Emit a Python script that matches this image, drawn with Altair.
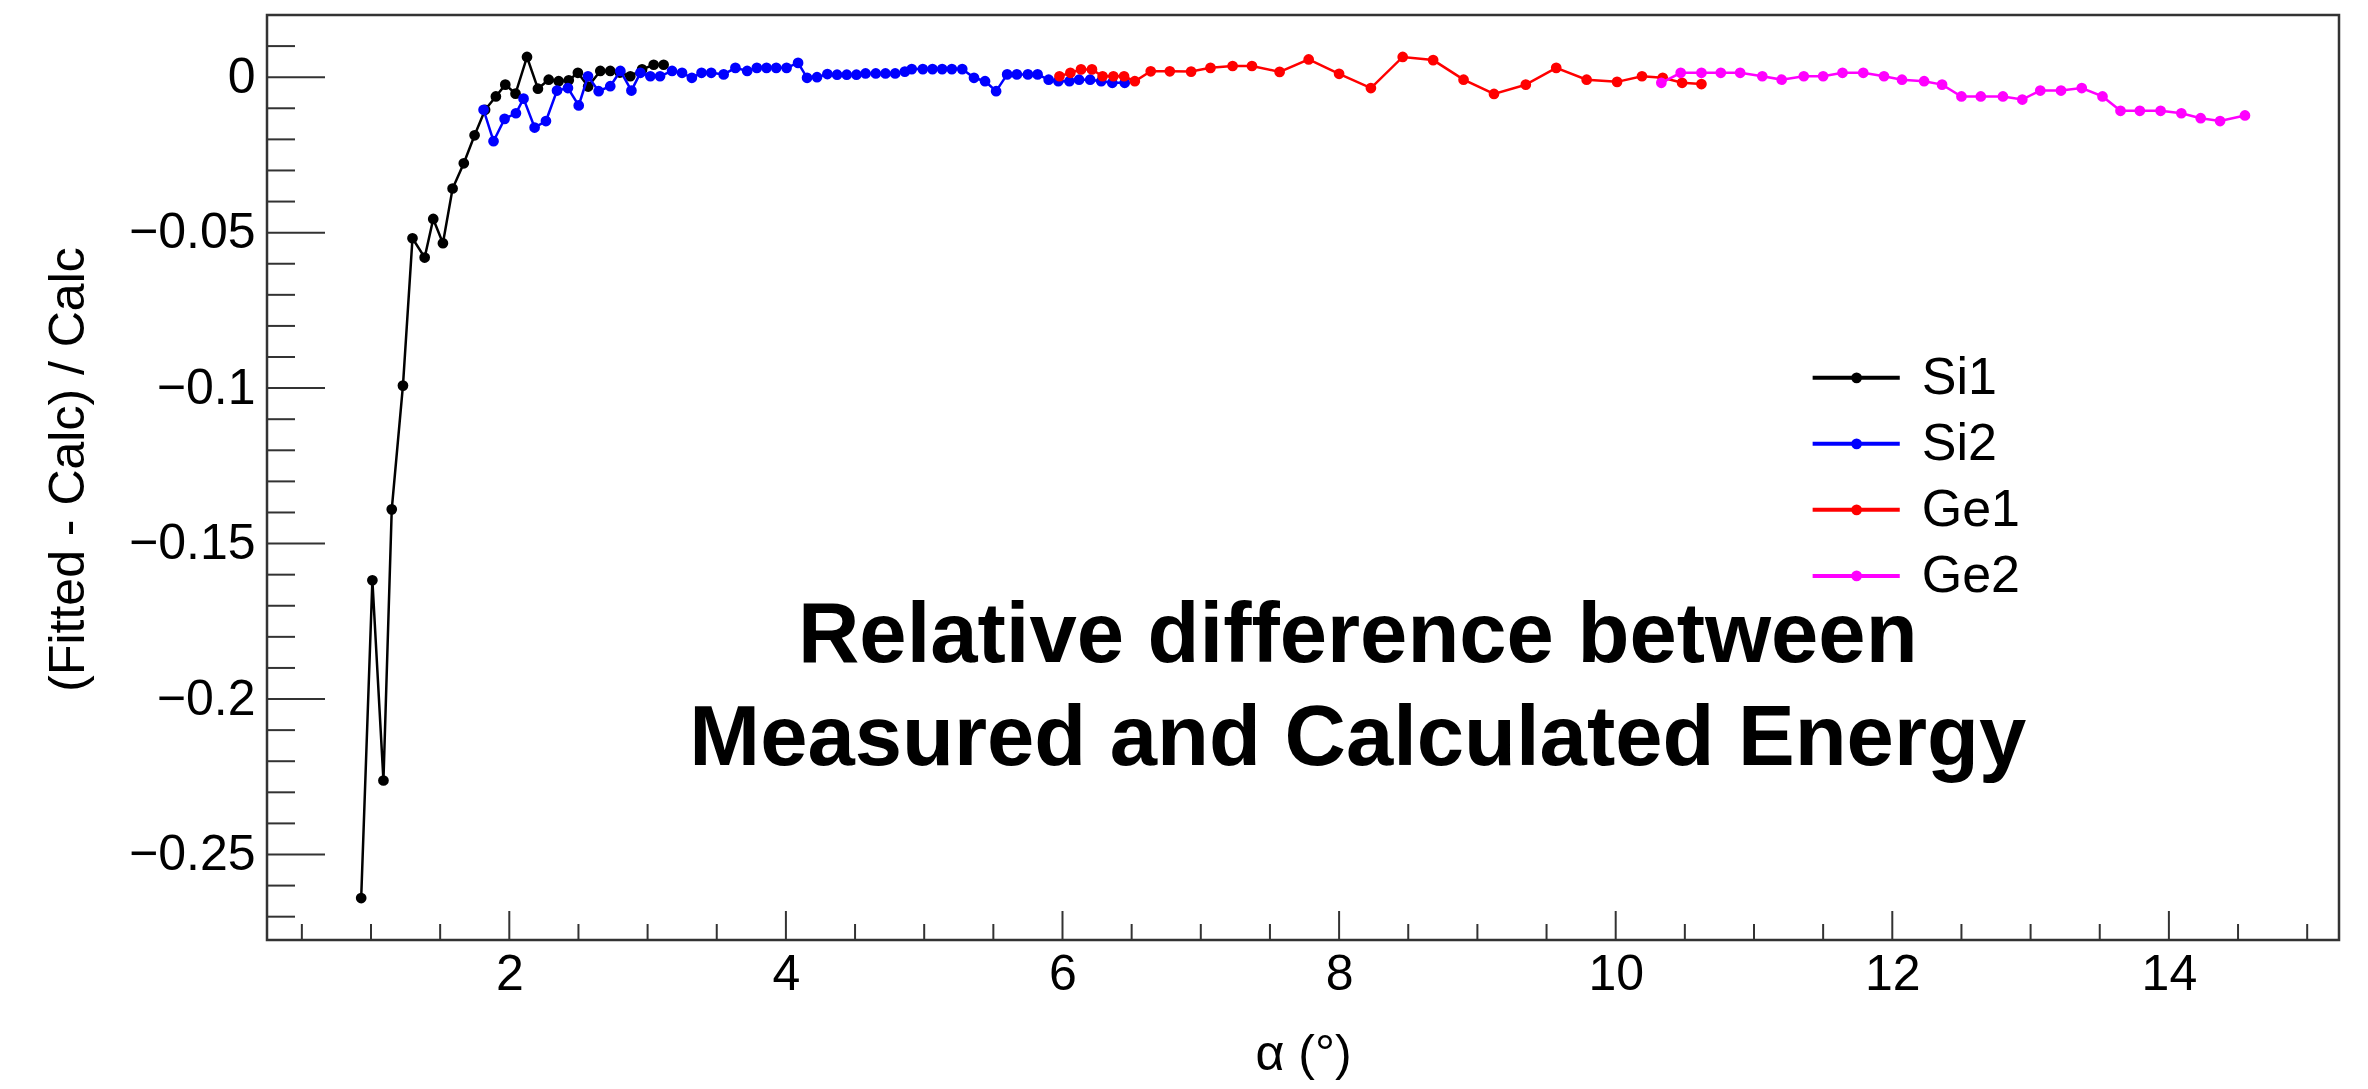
import altair as alt
import pandas as pd

# ---------------- data ----------------
series_names = ["Si1", "Si2", "Ge1", "Ge2"]
series_colors = ["#000000", "#0000ff", "#ff0000", "#ff00ff"]

si1_x = [0.929, 1.010, 1.090, 1.150, 1.231, 1.300, 1.388, 1.450, 1.520, 1.590,
         1.671, 1.749, 1.825, 1.903, 1.971, 2.045, 2.128, 2.207, 2.285, 2.357,
         2.430, 2.496, 2.570, 2.658, 2.730, 2.800, 2.875, 2.960, 3.044, 3.116]
si1_y = [-0.2640, -0.1618, -0.2262, -0.1390, -0.0992, -0.0518, -0.0580, -0.0456, -0.0534, -0.0358,
         -0.0277, -0.0187, -0.0105, -0.0062, -0.0024, -0.0053, 0.0065, -0.0037, -0.0008, -0.0013,
         -0.0010, 0.0014, -0.0030, 0.0020, 0.0020, 0.0015, 0.0003, 0.0025, 0.0040, 0.0040]

si2_x = [1.814, 1.886, 1.966, 2.048, 2.103, 2.183, 2.265, 2.345, 2.424, 2.502,
         2.569, 2.646, 2.730, 2.803, 2.883, 2.948, 3.020, 3.090, 3.177, 3.249,
         3.320, 3.390, 3.460, 3.550, 3.635, 3.720, 3.790, 3.860, 3.930, 4.005,
         4.088, 4.153, 4.225, 4.300, 4.370, 4.440, 4.510, 4.576, 4.650, 4.720,
         4.790, 4.860, 4.910, 4.990, 5.060, 5.130, 5.200, 5.275, 5.360, 5.440,
         5.520, 5.600, 5.670, 5.750, 5.820, 5.900, 5.970, 6.050, 6.120, 6.200,
         6.280, 6.360, 6.450]
si2_y = [-0.0105, -0.0206, -0.0134, -0.0116, -0.0069, -0.0162, -0.0141, -0.0043, -0.0035, -0.0091,
         0.0003, -0.0045, -0.0029, 0.0020, -0.0043, 0.0014, 0.0003, 0.0003, 0.0020, 0.0014,
         -0.0002, 0.0014, 0.0014, 0.0009, 0.0030, 0.0020, 0.0030, 0.0030, 0.0030, 0.0030,
         0.0046, -0.0002, 0.0000, 0.0010, 0.0008, 0.0008, 0.0008, 0.0012, 0.0012, 0.0012,
         0.0012, 0.0018, 0.0026, 0.0026, 0.0026, 0.0026, 0.0026, 0.0026, -0.0002, -0.0013,
         -0.0045, 0.0009, 0.0009, 0.0009, 0.0009, -0.0008, -0.0013, -0.0013, -0.0008, -0.0008,
         -0.0013, -0.0018, -0.0018]

ge1_x = [5.978, 6.057, 6.134, 6.213, 6.290, 6.368, 6.445, 6.523, 6.638, 6.776,
         6.930, 7.070, 7.230, 7.370, 7.570, 7.780, 8.000, 8.230, 8.460, 8.680,
         8.900, 9.120, 9.350, 9.570, 9.790, 10.010, 10.190, 10.340, 10.480, 10.620]
ge1_y = [0.0003, 0.0014, 0.0025, 0.0025, 0.0003, 0.0003, 0.0003, -0.0013, 0.0019, 0.0019,
         0.0018, 0.0030, 0.0036, 0.0036, 0.0017, 0.0057, 0.0011, -0.0035, 0.0065, 0.0055,
         -0.0008, -0.0054, -0.0024, 0.0030, -0.0008, -0.0015, 0.0003, -0.0002, -0.0018, -0.0022]

ge2_x = [10.33, 10.47, 10.62, 10.76, 10.90, 11.06, 11.20, 11.36, 11.50, 11.64,
         11.79, 11.94, 12.07, 12.23, 12.36, 12.50, 12.64, 12.80, 12.94, 13.07,
         13.22, 13.37, 13.52, 13.65, 13.79, 13.94, 14.09, 14.23, 14.37, 14.55]
ge2_y = [-0.0018, 0.0014, 0.0014, 0.0014, 0.0014, 0.0003, -0.0008, 0.0003, 0.0003, 0.0014,
         0.0014, 0.0003, -0.0008, -0.0013, -0.0024, -0.0062, -0.0062, -0.0062, -0.0072, -0.0043,
         -0.0043, -0.0035, -0.0062, -0.0108, -0.0108, -0.0108, -0.0116, -0.0132, -0.0141, -0.0123]

x_major = [2, 4, 6, 8, 10, 12, 14]
x_minor = [0.5, 1, 1.5, 2.5, 3, 3.5, 4.5, 5, 5.5, 6.5, 7, 7.5, 8.5, 9, 9.5,
           10.5, 11, 11.5, 12.5, 13, 13.5, 14.5, 15]
y_major = [0, -0.05, -0.1, -0.15, -0.2, -0.25]
y_minor = [0.01, -0.01, -0.02, -0.03, -0.04, -0.06, -0.07, -0.08, -0.09,
           -0.11, -0.12, -0.13, -0.14, -0.16, -0.17, -0.18, -0.19,
           -0.21, -0.22, -0.23, -0.24, -0.26, -0.27]

title_lines = ["Relative difference between", "Measured and Calculated Energy"]

# ---------------- layout constants (data units) ----------------
TITLE_X = 8.135
TITLE_Y = [-0.1881, -0.2212]
LEG_X1, LEG_XC, LEG_X2, LEG_XT = 11.424, 11.742, 12.054, 12.213
LEG_Y0, LEG_DY = -0.0967, 0.02123

# ---------------- tables ----------------
rows = []
for name, xs, ys in zip(series_names, [si1_x, si2_x, ge1_x, ge2_x], [si1_y, si2_y, ge1_y, ge2_y]):
    for a, b in zip(xs, ys):
        rows.append({"series": name, "alpha": a, "diff": b})
df = pd.DataFrame(rows)

leg = pd.DataFrame({
    "series": series_names,
    "x1": [LEG_X1] * 4, "xc": [LEG_XC] * 4, "x2": [LEG_X2] * 4, "xt": [LEG_XT] * 4,
    "y": [LEG_Y0 - i * LEG_DY for i in range(len(series_names))],
})

W, H = 2072, 925
FONT = "Liberation Sans"

xscale = alt.Scale(domain=[0.248, 15.23], nice=False, zero=False)
yscale = alt.Scale(domain=[-0.2775, 0.0200], nice=False, zero=False)

x_axis = alt.Axis(values=x_major, format="d", ticks=False, domain=False, grid=False,
                  labelFont=FONT, labelFontSize=50, labelColor="black", labelPadding=9,
                  labelFlush=False, title="α (°)", titleFont=FONT, titleFontSize=50,
                  titleFontWeight="normal", titleColor="black", titleY=129,
                  titleBaseline="alphabetic")
y_axis = alt.Axis(values=y_major, format="~g", ticks=False, domain=False, grid=False,
                  labelFont=FONT, labelFontSize=50, labelColor="black", labelPadding=12,
                  labelFlush=False, title="(Fitted - Calc) / Calc", titleFont=FONT,
                  titleFontSize=50, titleFontWeight="normal", titleColor="black",
                  titleAngle=270, titleX=-184, titleY=454, titleAlign="center",
                  titleBaseline="alphabetic")

color = alt.Color("series:N", scale=alt.Scale(domain=series_names, range=series_colors),
                  legend=None)

def X(field):
    return alt.X(field, scale=xscale, axis=x_axis)

def Y(field):
    return alt.Y(field, scale=yscale, axis=y_axis)

layers = []

# ticks (ROOT style, inside the frame)
def yticks(vals, length):
    d = pd.DataFrame({"diff": vals})
    return alt.Chart(d).mark_rule(color="#333333", strokeWidth=2).encode(
        y=Y("diff:Q"), x=alt.value(0), x2=alt.value(length))

def xticks(vals, length):
    d = pd.DataFrame({"alpha": vals})
    return alt.Chart(d).mark_rule(color="#333333", strokeWidth=2).encode(
        x=X("alpha:Q"), y=alt.value(H), y2=alt.value(H - length))

layers += [yticks(y_major, 58), yticks(y_minor, 28), xticks(x_major, 29), xticks(x_minor, 16)]

for name in series_names:
    base = alt.Chart(df).transform_filter(alt.datum.series == name)
    enc = dict(x=X("alpha:Q"), y=Y("diff:Q"), color=color)
    layers.append(base.mark_line(strokeWidth=2.5).encode(**enc))
    layers.append(base.mark_point(filled=True, size=115, opacity=1).encode(**enc))

# legend (drawn from the series list)
legbase = alt.Chart(leg)
layers.append(legbase.mark_rule(strokeWidth=4).encode(
    x=X("x1:Q"), x2="x2:Q", y=Y("y:Q"), color=color))
layers.append(legbase.mark_point(filled=True, size=115, opacity=1).encode(
    x=X("xc:Q"), y=Y("y:Q"), color=color))
layers.append(legbase.mark_text(font=FONT, fontSize=52, align="left", baseline="middle",
                                color="black").encode(
    x=X("xt:Q"), y=Y("y:Q"), text="series:N"))

tdf = pd.DataFrame({"alpha": [TITLE_X] * 2, "diff": TITLE_Y, "txt": title_lines})
layers.append(alt.Chart(tdf).mark_text(font=FONT, fontSize=85, fontWeight="bold",
                                       align="center", baseline="alphabetic",
                                       color="black").encode(
    x=X("alpha:Q"), y=Y("diff:Q"), text="txt:N"))

chart = alt.layer(*layers).properties(
    width=W, height=H,
    autosize=alt.AutoSizeParams(type="none"),
    padding={"left": 267, "top": 15, "right": 29, "bottom": 149},
    background="white",
).configure_view(stroke="#333333", strokeWidth=2.5)

chart.save("out.html", embed_options={"renderer": "svg", "actions": False})
